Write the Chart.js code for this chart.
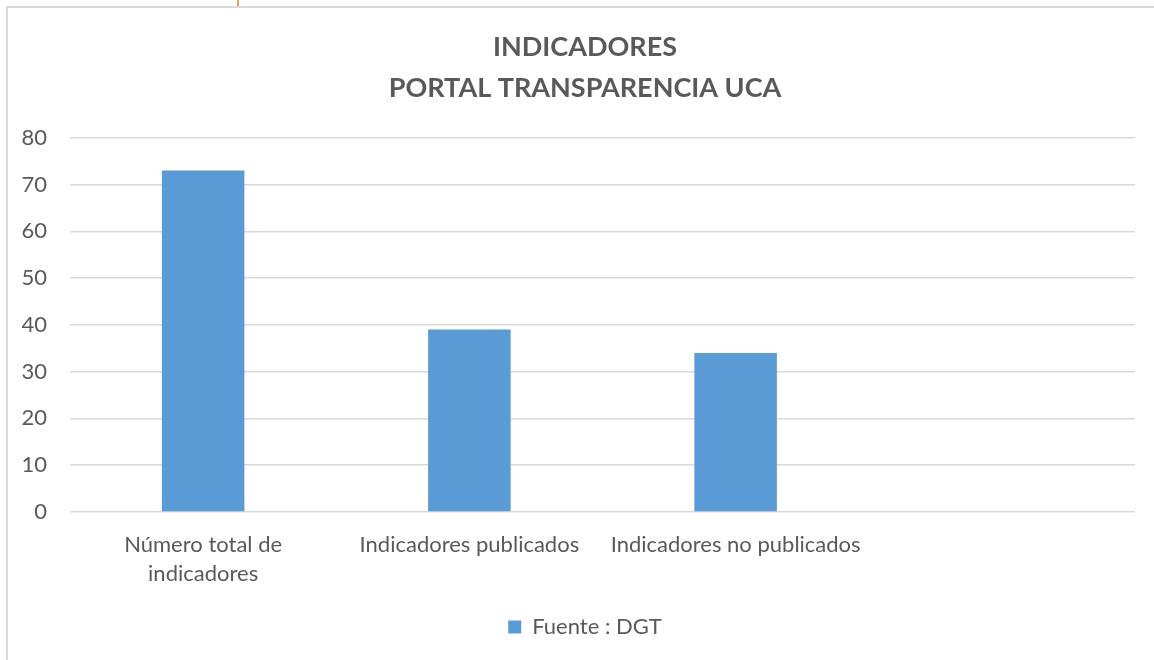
<!DOCTYPE html>
<html>
<head>
<meta charset="utf-8">
<script src="https://cdn.jsdelivr.net/npm/chart.js@4"></script>
<style>
  html, body { margin: 0; padding: 0; background: #fff; overflow: hidden; width: 1154px; height: 660px; }
  #box { position: absolute; left: 6px; top: 6px; width: 1158px; height: 660px; border: 2px solid #d9d9d9; box-sizing: border-box; }
  #mark { position: absolute; left: 237px; top: 0; width: 2px; height: 6px; background: #e0a060; }
  canvas { display: block; }
</style>
</head>
<body>
<div id="mark"></div>
<div id="box"><canvas id="chart" width="1154" height="656"></canvas></div>
<script>
// datos del gráfico
const categorias = [['Número total de', 'indicadores'], 'Indicadores publicados', 'Indicadores no publicados', ''];
const valores = [73, 39, 34, null];
const serie = 'Fuente : DGT';
const tituloLineas = ['INDICADORES', 'PORTAL TRANSPARENCIA UCA'];

const gris = '#595959';
const fuente = 'Lato, "Open Sans", sans-serif';

const ctx = document.getElementById('chart').getContext('2d');
new Chart(ctx, {
  type: 'bar',
  data: {
    labels: categorias,
    datasets: [{
      label: serie,
      data: valores,
      backgroundColor: '#5b9bd5',
      categoryPercentage: 1,
      barPercentage: 0.31
    }]
  },
  options: {
    responsive: false,
    animation: false,
    layout: { padding: { left: 0, right: 0, top: 18, bottom: 16 } },
    plugins: {
      title: {
        display: true,
        text: tituloLineas,
        color: gris,
        font: { family: fuente, size: 27, weight: 'bold', lineHeight: 1.55 },
        padding: { top: 0, bottom: 28 }
      },
      legend: {
        position: 'bottom',
        labels: {
          color: gris,
          font: { family: fuente, size: 22 },
          boxWidth: 13,
          boxHeight: 13,
          padding: 10
        }
      },
      tooltip: { enabled: false }
    },
    scales: {
      x: {
        grid: { display: false, drawTicks: false },
        border: { display: false },
        ticks: {
          color: gris,
          font: { family: fuente, size: 22, lineHeight: 1.32 },
          maxRotation: 0,
          autoSkip: false,
          padding: 18
        }
      },
      y: {
        min: 0,
        max: 80,
        grid: { color: '#d9d9d9', lineWidth: 1.5, drawTicks: false },
        border: { display: false },
        afterFit: (scale) => { scale.width = 62; },
        ticks: {
          stepSize: 10,
          color: gris,
          font: { family: fuente, size: 22 },
          padding: 23
        }
      },
      // eje vacío a la derecha, solo para dejar margen
      yDer: {
        position: 'right',
        min: 0,
        max: 80,
        grid: { display: false, drawTicks: false },
        border: { display: false },
        ticks: { display: false },
        afterFit: (scale) => { scale.width = 27; }
      }
    }
  }
});
</script>
</body>
</html>
